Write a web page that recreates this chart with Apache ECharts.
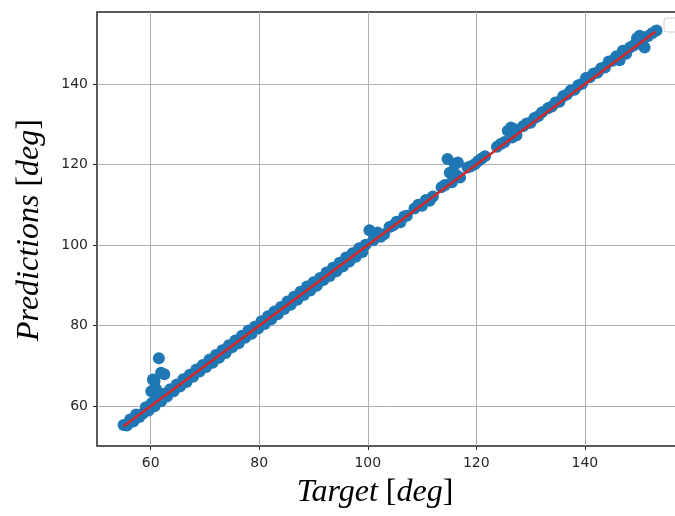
<!DOCTYPE html>
<html>
<head>
<meta charset="utf-8">
<script src="https://cdn.jsdelivr.net/npm/echarts@6/dist/echarts.min.js"></script>
<style>
  html, body { margin: 0; padding: 0; background: #fff; }
  #main { width: 675px; height: 516px; }
</style>
</head>
<body>
<div id="main"></div>
<script>
// target / predicted angle
const target = [
  55.0, 55.6, 56.2, 56.8, 57.3, 57.9, 58.5, 59.1, 59.6, 60.2, 60.7, 61.3, 61.9, 62.4,
  63.0, 63.6, 64.2, 64.8, 65.4, 66.0, 66.6, 67.2, 67.8, 68.4, 69.0, 69.6, 70.2, 70.8,
  71.4, 72.0, 72.6, 73.2, 73.8, 74.4, 75.0, 75.6, 76.2, 76.8, 77.4, 78.0, 78.6, 79.2,
  79.8, 80.4, 81.0, 81.6, 82.2, 82.8, 83.4, 84.0, 84.6, 85.2, 85.8, 86.4, 87.0, 87.6,
  88.2, 88.8, 89.4, 90.0, 90.6, 91.2, 91.8, 92.4, 93.0, 93.6, 94.2, 94.8, 95.4, 96.0,
  96.6, 97.2, 97.8, 98.4, 99.0, 99.6,
  61.5, 61.9, 62.5, 60.4, 60.1, 61.0, 60.7,
  100.3, 101.0, 101.8, 102.4, 103.0, 104.0, 104.7, 105.3, 106.0, 106.7, 107.2,
  108.6, 109.3, 110.0, 110.7, 111.4, 112.0, 113.6, 114.2, 114.7, 115.1, 115.5,
  116.0, 116.3, 116.6, 117.0, 118.4, 119.0, 119.7, 120.3, 121.0, 121.6, 123.8,
  124.5, 125.2, 125.8, 126.4, 126.6, 127.0, 127.4, 128.6, 129.3, 130.0, 130.7,
  131.4, 132.1, 133.2, 133.9, 134.6, 135.3, 136.0, 136.7, 137.4, 138.1, 138.8,
  139.5, 140.2, 140.9, 141.6, 142.3, 143.0, 143.7, 144.4, 145.1, 145.8, 146.4,
  147.0, 147.6, 148.3, 149.0, 149.6, 150.1, 150.6, 151.0, 151.6, 152.4, 153.2
];
const predicted = [
  55.3, 55.2, 56.7, 56.2, 57.9, 57.3, 58.1, 59.7, 58.9, 60.8, 60.0, 61.9, 61.2, 63.1,
  62.4, 64.2, 63.7, 65.4, 64.9, 66.7, 66.0, 67.8, 67.3, 69.1, 68.6, 70.2, 69.7, 71.5,
  70.8, 72.7, 72.0, 73.9, 73.2, 75.1, 74.6, 76.3, 75.6, 77.5, 77.0, 78.8, 78.0, 79.7,
  79.3, 81.1, 80.4, 82.3, 81.6, 83.5, 82.8, 84.6, 84.1, 86.0, 85.2, 87.2, 86.4, 88.4,
  87.6, 89.7, 88.7, 90.8, 89.9, 91.8, 91.3, 93.2, 92.3, 94.4, 93.5, 95.6, 94.7, 96.9,
  95.9, 98.0, 97.1, 99.2, 98.3, 100.1,
  71.9, 68.3, 67.9, 66.6, 63.7, 64.2, 66.2,
  103.7, 101.2, 103.1, 102.1, 102.7, 104.5, 104.9, 105.8, 105.7, 107.1, 107.3,
  109.1, 110.0, 109.8, 111.2, 111.0, 112.1, 114.4, 114.9, 121.4, 118.0, 115.6,
  120.1, 117.5, 120.5, 116.8, 119.3, 119.6, 120.1, 120.8, 121.5, 122.1, 124.4,
  125.1, 125.6, 128.4, 129.2, 126.7, 128.8, 127.3, 129.5, 130.2, 130.4, 131.6,
  132.0, 133.0, 134.0, 134.4, 135.4, 135.6, 137.0, 137.4, 138.4, 138.6, 139.7,
  140.1, 141.5, 141.7, 142.6, 142.8, 143.9, 144.1, 145.6, 145.8, 146.9, 145.9,
  148.3, 147.5, 149.1, 149.6, 151.4, 152.0, 149.8, 149.1, 151.9, 152.6, 153.3
];
// ideal line y = x
const idealX = [55, 153];
const idealY = [55, 153];
const xTicks = [60, 80, 100, 120, 140];
const yTicks = [60, 80, 100, 120, 140];

const myChart = echarts.init(document.getElementById('main'));

const points = target.map((t, i) => [t, predicted[i]]);
const ideal = idealX.map((x, i) => [x, idealY[i]]);

const tickFont = { color: '#262626', fontSize: 14, fontFamily: 'DejaVu Sans' };
const titleRich = {
  i: { fontFamily: 'Liberation Serif', fontStyle: 'italic', fontSize: 32, fill: '#000' },
  u: { fontFamily: 'Liberation Serif', fontSize: 32, fill: '#000' }
};

const option = {
  animation: false,
  backgroundColor: '#fff',
  grid: {
    left: 97,
    top: 12,
    right: -7, // right spine falls just outside the picture
    bottom: 70,
    outerBoundsMode: 'none',
    show: true,
    borderColor: '#262626',
    borderWidth: 1.5,
    backgroundColor: 'transparent'
  },
  xAxis: {
    type: 'value',
    min: 50.1,
    max: 157.9,
    axisLine: { show: false },
    axisTick: { show: true, inside: false, length: 4, customValues: xTicks, lineStyle: { color: '#262626' } },
    axisLabel: Object.assign({ margin: 10, customValues: xTicks }, tickFont),
    splitLine: { show: true, lineStyle: { color: '#b0b0b0', width: 1 } }
  },
  yAxis: {
    type: 'value',
    min: 50.1,
    max: 157.9,
    axisLine: { show: false },
    axisTick: { show: true, inside: false, length: 4, customValues: yTicks, lineStyle: { color: '#262626' } },
    axisLabel: Object.assign({ margin: 9, customValues: yTicks }, tickFont),
    splitLine: { show: true, lineStyle: { color: '#b0b0b0', width: 1 } }
  },
  graphic: [
    {
      type: 'text', x: 375, y: 493,
      style: {
        text: '{i|Target }{u|[}{i|deg}{u|]}',
        textAlign: 'center', textVerticalAlign: 'middle',
        rich: titleRich
      }
    },
    {
      type: 'text', x: 30, y: 230, rotation: Math.PI / 2,
      style: {
        text: '{i|Predictions }{u|[}{i|deg}{u|]}',
        textAlign: 'center', textVerticalAlign: 'middle',
        rich: titleRich
      }
    },
    {
      // corner of the (empty) legend box
      type: 'rect', x: 664, y: 18,
      shape: { width: 40, height: 14, r: 3 },
      style: { fill: '#fff', stroke: '#d0d0d0', lineWidth: 1 }
    }
  ],
  series: [
    {
      type: 'scatter',
      data: points,
      symbolSize: 12,
      itemStyle: { color: '#1f77b4', opacity: 1 },
      z: 2
    },
    {
      type: 'line',
      data: ideal,
      symbol: 'none',
      lineStyle: { color: '#d62728', width: 2.5 },
      z: 3
    }
  ]
};
myChart.setOption(option);
</script>
</body>
</html>
